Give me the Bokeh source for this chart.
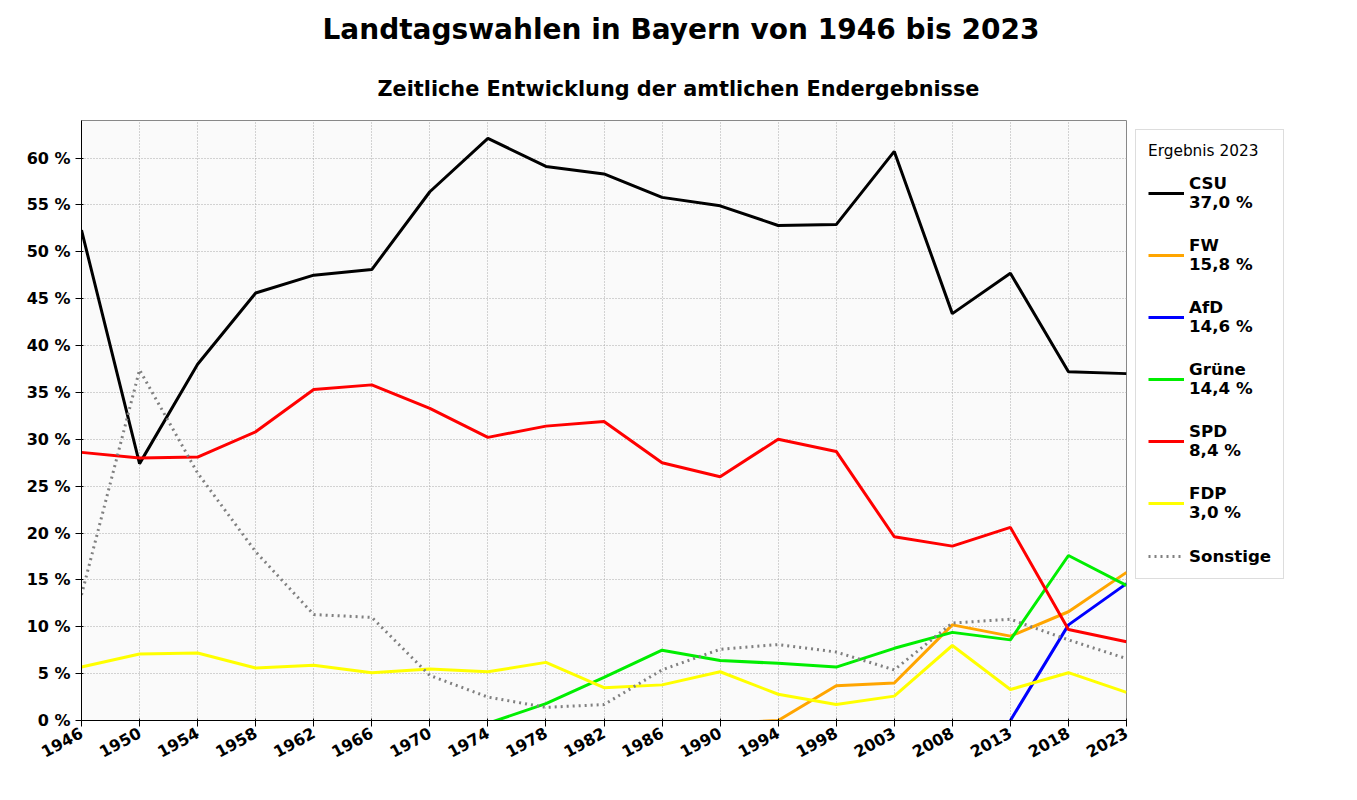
from bokeh.plotting import figure
from bokeh.models import Legend, LegendItem, Title, FixedTicker, Range1d
from bokeh.embed import file_html
from bokeh.resources import INLINE

years = ["1946","1950","1954","1958","1962","1966","1970","1974","1978","1982","1986","1990","1994","1998","2003","2008","2013","2018","2023"]
csu = [52.3,27.4,38.0,45.6,47.5,48.1,56.4,62.1,59.1,58.3,55.8,54.9,52.8,52.9,60.7,43.4,47.7,37.2,37.0]
spd = [28.6,28.0,28.1,30.8,35.3,35.8,33.3,30.2,31.4,31.9,27.5,26.0,30.0,28.7,19.6,18.6,20.6,9.7,8.4]
fdp = [5.7,7.1,7.2,5.6,5.9,5.1,5.5,5.2,6.2,3.5,3.8,5.2,2.8,1.7,2.6,8.0,3.3,5.1,3.0]
gruene = [None]*7 + [-0.3,1.8,4.6,7.5,6.4,6.1,5.7,7.7,9.4,8.6,17.6,14.4]
fw = [None]*11 + [-0.3,0.0,3.7,4.0,10.2,9.0,11.6,15.8]
afd = [None]*16 + [0.0,10.2,14.6]
sonstige = [13.4,37.4,26.4,18.0,11.3,11.0,4.8,2.5,1.4,1.7,5.4,7.6,8.1,7.3,5.4,10.4,10.8,8.6,6.6]

series = [("CSU\n37,0 %", csu, "black", "solid"),
          ("FW\n15,8 %", fw, "orange", "solid"),
          ("AfD\n14,6 %", afd, "blue", "solid"),
          ("Grüne\n14,4 %", gruene, "#00ee00", "solid"),
          ("SPD\n8,4 %", spd, "red", "solid"),
          ("FDP\n3,0 %", fdp, "yellow", "solid"),
          ("Sonstige", sonstige, "gray", "dotted")]

p = figure(frame_width=1045, frame_height=600, output_backend="svg", toolbar_location=None,
           x_range=Range1d(0, len(years)-1), y_range=Range1d(0, 64),
           background_fill_color="#fafafa", min_border_left=81, min_border_right=40,
           min_border_top=15, min_border_bottom=10)
p.add_layout(Title(text="Zeitliche Entwicklung der amtlichen Endergebnisse", text_font_size="15.6pt",
                   align="left", offset=296, text_color="black", standoff=39,
                   text_font="DejaVu Sans", text_font_style="bold"), "above")
p.add_layout(Title(text="Landtagswahlen in Bayern von 1946 bis 2023", text_font_size="21pt",
                   align="left", offset=241, text_color="black", standoff=20,
                   text_font="DejaVu Sans", text_font_style="bold"), "above")

items = []
xs = list(range(len(years)))
for label, ys, col, dash in series:
    pts = [(x, y) for x, y in zip(xs, ys) if y is not None]
    r = p.line([a for a, _ in pts], [b for _, b in pts], line_color=col, line_width=3, line_dash=dash)
    items.append(LegendItem(label=label, renderers=[r]))

leg = Legend(items=items, title="Ergebnis 2023", location="top_left", spacing=24, margin=9,
             label_text_font_style="bold", label_text_font_size="12.5pt", label_text_font="DejaVu Sans",
             label_text_color="black", title_text_color="black", title_standoff=14,
             title_text_font_size="11.5pt", title_text_font_style="normal", title_text_font="DejaVu Sans",
             border_line_color="#bbbbbb", padding=12, glyph_width=36)
p.add_layout(leg, "right")

p.xaxis.ticker = FixedTicker(ticks=xs)
p.xaxis.major_label_overrides = {i: y for i, y in enumerate(years)}
p.xaxis.major_label_orientation = 0.5
p.yaxis.ticker = FixedTicker(ticks=list(range(0, 65, 5)))
p.yaxis.major_label_overrides = {v: f"{v} %" for v in range(0, 65, 5)}
for ax in (p.xaxis, p.yaxis):
    ax.major_label_text_font_style = "bold"
    ax.major_label_text_font_size = "12pt"
    ax.major_label_text_font = "DejaVu Sans"
    ax.major_label_text_color = "black"
    ax.minor_tick_line_color = None
p.grid.grid_line_dash = "1 2"
p.grid.grid_line_color = "#aaaaaa"
p.outline_line_color = "#888888"

open("out.html", "w").write(file_html(p, INLINE))
